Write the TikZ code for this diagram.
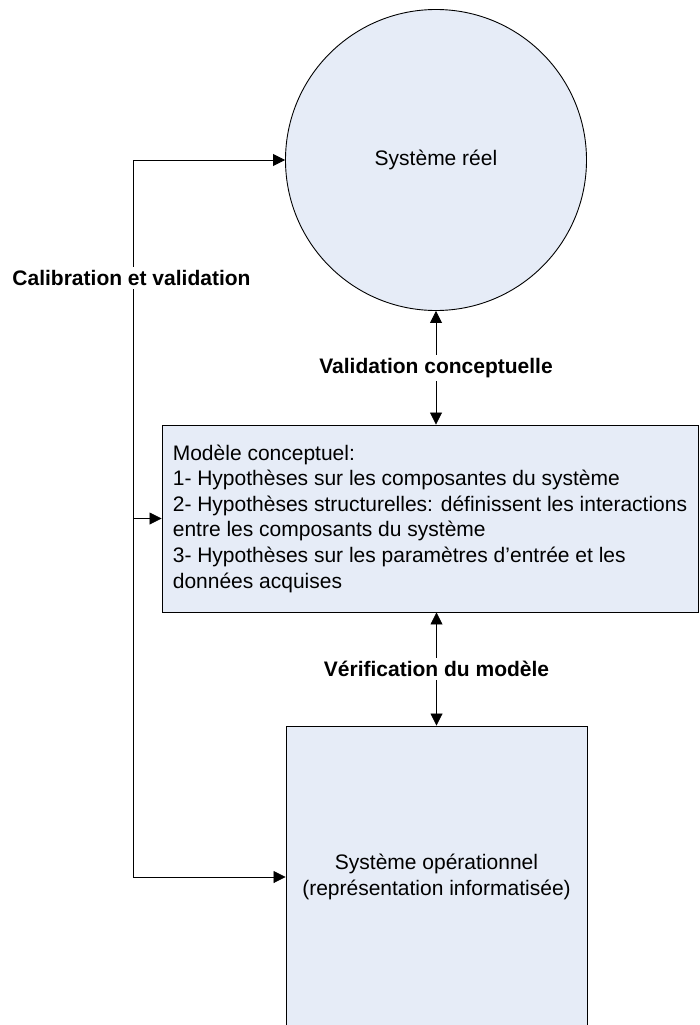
\documentclass[tikz,border=0pt]{standalone}
\usepackage{fontspec}
\setmainfont{Liberation Sans}
\usetikzlibrary{arrows.meta}
\definecolor{boxfill}{RGB}{230,236,247}
\begin{document}
\begin{tikzpicture}[x=1pt,y=-1pt,
  every node/.style={font=\fontsize{21}{25.6}\selectfont},
  shapebox/.style={draw=black, line width=0.9pt, fill=boxfill},
  link/.style={line width=0.8pt},
  conn/.style={line width=0.8pt, -{Triangle[length=12pt,width=12pt]}},
  dconn/.style={line width=0.8pt, {Triangle[length=12pt,width=12pt]}-{Triangle[length=12pt,width=12pt]}},
  lab/.style={fill=white, font=\fontsize{21}{25.6}\selectfont\bfseries, inner xsep=2pt, inner ysep=3pt}]
\useasboundingbox (0,0) rectangle (699,1025);
\node[shapebox, circle, minimum size=301pt, inner sep=0pt] (reel) at (436,160) {Système réel};
\node[shapebox, rectangle, minimum width=536pt, minimum height=187pt, align=left, inner sep=0pt] (concept) at (430,518.5)
  {Modèle conceptuel:\\
   1- Hypothèses sur les composantes du système\\
   2- Hypothèses structurelles: définissent les interactions\\
   entre les composants du système\\
   3- Hypothèses sur les paramètres d’entrée et les\\
   données acquises};
\node[shapebox, rectangle, minimum width=301pt, minimum height=302pt, align=center, inner sep=0pt] (sysop) at (436.5,877)
  {Système opérationnel\\(représentation informatisée)};
\coordinate (ctop) at (133,160);
\coordinate (cmid) at (133,518.5);
\coordinate (cbot) at (133,877);
\draw[link] (ctop) -- (cbot);
\draw[conn] (ctop) -- (reel.west);
\draw[conn] (cmid) -- (concept.west);
\draw[conn] (cbot) -- (sysop.west);
\node[lab] (calib) at (131.5,278) {Calibration et validation};
\draw[dconn] (reel.south) -- node[lab] (valconc) {Validation conceptuelle} (reel.south |- concept.north);
\draw[dconn] (concept.south -| sysop.north) -- node[lab] (verif) {Vérification du modèle} (sysop.north);
\end{tikzpicture}
\end{document}
